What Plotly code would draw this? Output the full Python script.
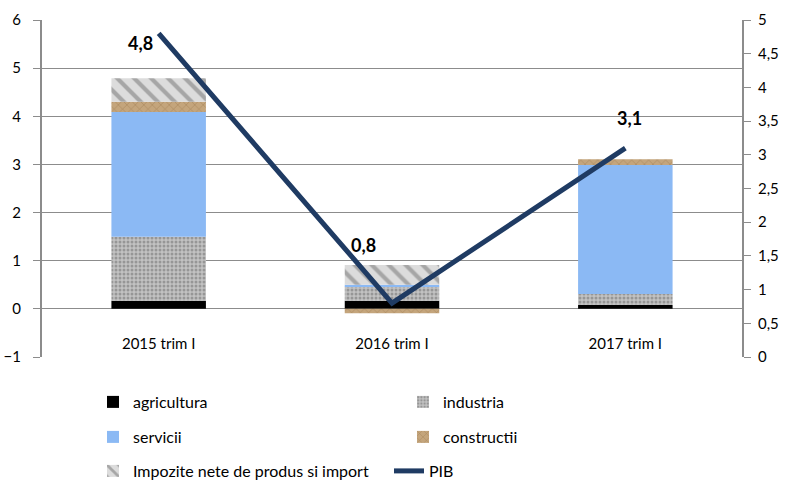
import plotly.graph_objects as go

categories = ["2015 trim I", "2016 trim I", "2017 trim I"]
agricultura = [0.17, 0.17, 0.08]
industria = [1.33, 0.29, 0.23]
servicii = [2.59, 0.04, 2.68]
constructii = [0.21, -0.09, 0.12]
impozite = [0.49, 0.41, 0.0]
pib = [4.8, 0.8, 3.1]
pib_labels = ["4,8", "0,8", "3,1"]
label_shifts = [(-18, -10), (-29, 58), (4, 30)]

FONT = "Lato"

# layout geometry (pixels)
W, H = 787, 481
M_L, M_R, M_T, M_B = 42, 45, 20, 124
paper_h = H - M_T - M_B


def py(px):
    return (H - M_B - px) / paper_h


def px_x(px):
    return (px - M_L) / (W - M_L - M_R)


fig = go.Figure()
fig.add_trace(go.Bar(name="agricultura", x=categories, y=agricultura,
                     marker=dict(color="#000000", line=dict(width=0)), legend="legend"))
fig.add_trace(go.Bar(name="industria", x=categories, y=industria,
                     marker=dict(color="#b4b4b4", line=dict(width=0),
                                 pattern=dict(shape=".", bgcolor="#c2c2c2", fgcolor="#6a6a6a",
                                              size=4, solidity=0.45)),
                     legend="legend2"))
fig.add_trace(go.Bar(name="servicii", x=categories, y=servicii,
                     marker=dict(color="#8bb9f4", line=dict(width=0)), legend="legend3"))
fig.add_trace(go.Bar(name="constructii", x=categories, y=constructii,
                     marker=dict(color="#b8966a", line=dict(width=0),
                                 pattern=dict(shape="x", bgcolor="#c4a57c", fgcolor="#8f6a3e",
                                              size=6, solidity=0.2)),
                     legend="legend4"))
fig.add_trace(go.Bar(name="Impozite nete de produs si import", x=categories, y=impozite,
                     marker=dict(color="#cfcfcf", line=dict(width=0),
                                 pattern=dict(shape="\\", bgcolor="#dcdcdc", fgcolor="#707070",
                                              size=12, solidity=0.35)),
                     legend="legend5"))
fig.add_trace(go.Scatter(name="PIB", x=categories, y=pib, yaxis="y2", mode="lines",
                         line=dict(color="#1f3b63", width=5), legend="legend6"))

for c, v, t, (dx, dy) in zip(categories, pib, pib_labels, label_shifts):
    fig.add_annotation(x=c, y=v, yref="y2", text=t, showarrow=False,
                       xshift=dx, yshift=dy,
                       font=dict(family=FONT, size=18, color="#000000", weight="bold"))

lc = dict(orientation="h", xanchor="left", yanchor="middle",
          font=dict(family=FONT, size=16, color="#000000"),
          bgcolor="rgba(0,0,0,0)", itemclick=False, borderwidth=0)

fig.update_layout(
    width=W, height=H,
    margin=dict(l=M_L, r=M_R, t=M_T, b=M_B, autoexpand=False),
    paper_bgcolor="white", plot_bgcolor="white",
    showlegend=True,
    barmode="relative", bargap=0.595,
    separators=", ",
    font=dict(family=FONT, size=15, color="#000000"),
    xaxis=dict(anchor="free", position=1 / 7, showline=False, showgrid=False,
               ticks="", ticklabelstandoff=24, automargin=False,
               tickfont=dict(family=FONT, size=15, color="#000000")),
    yaxis=dict(range=[-1, 6], dtick=1, showgrid=True,
               gridcolor="#8c8c8c", gridwidth=1, automargin=False,
               zeroline=False, showline=True, linecolor="#8c8c8c", linewidth=2,
               ticks="outside", ticklen=7, tickcolor="#8c8c8c", ticklabelstandoff=9,
               tickfont=dict(family=FONT, size=15, color="#000000")),
    yaxis2=dict(range=[0, 5], dtick=0.5, overlaying="y", side="right",
                showgrid=False, automargin=False,
                zeroline=False, showline=True, linecolor="#8c8c8c", linewidth=2,
                ticks="outside", ticklen=7, tickcolor="#8c8c8c", ticklabelstandoff=4,
                tickfont=dict(family=FONT, size=15, color="#000000")),
    legend=dict(x=px_x(93), y=py(402), **lc),
    legend2=dict(x=px_x(403), y=py(402), **lc),
    legend3=dict(x=px_x(93), y=py(437), **lc),
    legend4=dict(x=px_x(403), y=py(437), **lc),
    legend5=dict(x=px_x(93), y=py(471), **lc),
    legend6=dict(x=px_x(389), y=py(471), **lc),
)

fig.write_html("out.html", post_script="document.body.style.margin='0';",
               config={"displayModeBar": False})
